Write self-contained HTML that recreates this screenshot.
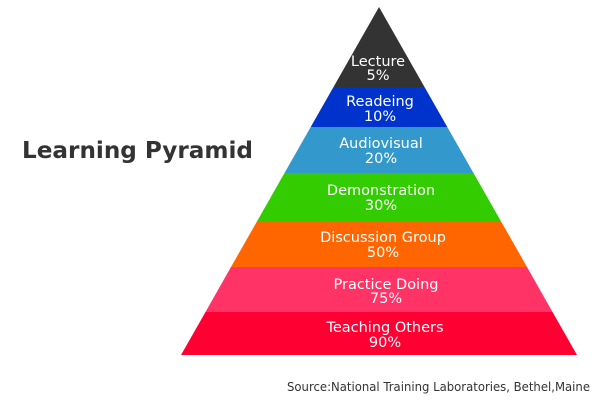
<!DOCTYPE html>
<html><head><style>html,body{margin:0;padding:0;background:#fff;width:600px;height:400px;overflow:hidden}</style></head>
<body>
<svg width="600" height="400" xmlns="http://www.w3.org/2000/svg" font-family="'DejaVu Sans','Liberation Sans',sans-serif">
<polygon points="379,7 424.5,87 333.5,87" fill="#333333"/>
<polygon points="333.5,87 424.5,87 447.3,127 310.7,127" fill="#0033cc"/>
<polygon points="310.7,127 447.3,127 473.5,173 284.5,173" fill="#3399cc"/>
<polygon points="284.5,173 473.5,173 500.8,221 257.2,221" fill="#33cc00"/>
<polygon points="257.2,221 500.8,221 527,267 231,267" fill="#ff6600"/>
<polygon points="231,267 527,267 552.5,312 205.5,312" fill="#ff3366"/>
<polygon points="205.5,312 552.5,312 577,355 181,355" fill="#ff0033"/>
<g fill="#fff" font-size="14.5" text-anchor="middle">
<text x="378" y="66">Lecture</text><text x="378" y="80">5%</text>
<text x="380" y="106">Readeing</text><text x="380" y="121">10%</text>
<text x="381" y="148">Audiovisual</text><text x="381" y="163">20%</text>
<text x="381" y="195">Demonstration</text><text x="381" y="210">30%</text>
<text x="383" y="242">Discussion Group</text><text x="383" y="257">50%</text>
<text x="386" y="289">Practice Doing</text><text x="386" y="303">75%</text>
<text x="385" y="332">Teaching Others</text><text x="385" y="347">90%</text>
</g>
<text x="22" y="158" font-size="23" font-weight="bold" fill="#333" textLength="231" lengthAdjust="spacingAndGlyphs">Learning Pyramid</text>
<text x="287" y="391" font-size="12" fill="#333" textLength="303" lengthAdjust="spacingAndGlyphs">Source:National Training Laboratories, Bethel,Maine</text>
</svg>
</body></html>
